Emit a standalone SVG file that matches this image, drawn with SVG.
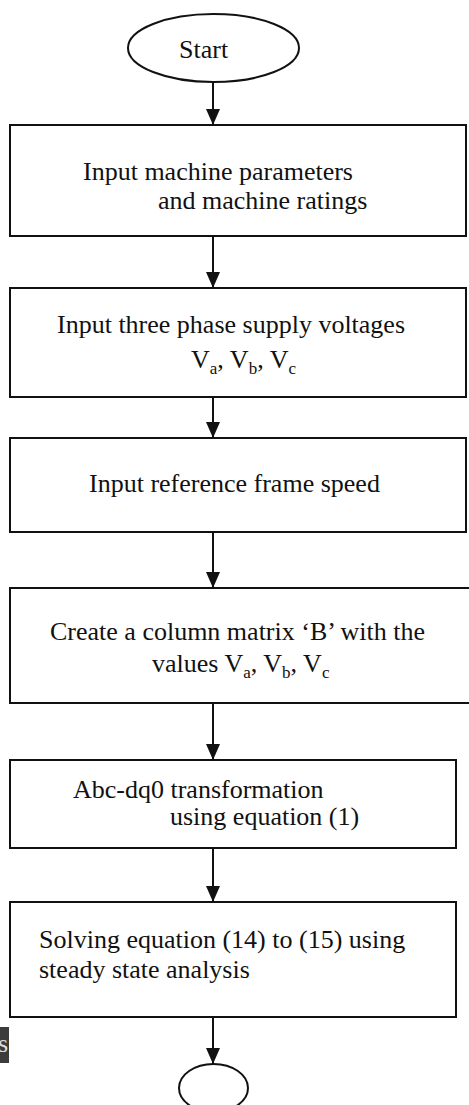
<svg xmlns="http://www.w3.org/2000/svg" width="469" height="1105" viewBox="0 0 469 1105">
<style>
.box{fill:#fff;stroke:#111;stroke-width:2}
.t{font-family:"Liberation Serif","Times New Roman",serif;font-size:26px;fill:#111}
.sub{font-size:17px}
.con{stroke:#111;stroke-width:2;fill:none}
</style>
<defs>
<marker id="ah" markerUnits="userSpaceOnUse" markerWidth="16" markerHeight="14" viewBox="0 0 16 14" refX="16" refY="7" orient="auto">
<path d="M0,0 L16,7 L0,14 z" fill="#111"/>
</marker>
</defs>
<rect width="469" height="1105" fill="#fff"/>
<g id="connectors">
<line class="con" x1="213" y1="82" x2="213" y2="125" marker-end="url(#ah)"/>
<line class="con" x1="213" y1="236" x2="213" y2="288" marker-end="url(#ah)"/>
<line class="con" x1="213" y1="397" x2="213" y2="438" marker-end="url(#ah)"/>
<line class="con" x1="213" y1="532" x2="213" y2="588" marker-end="url(#ah)"/>
<line class="con" x1="213" y1="703" x2="213" y2="760" marker-end="url(#ah)"/>
<line class="con" x1="213" y1="848" x2="213" y2="902" marker-end="url(#ah)"/>
<line class="con" x1="213" y1="1017" x2="213" y2="1064" marker-end="url(#ah)"/>
</g>
<g id="start">
<ellipse class="box" cx="213.5" cy="48" rx="85.5" ry="34"/>
<text class="t" x="179" y="58">Start</text>
</g>
<g id="n1">
<rect class="box" x="10" y="125" width="456" height="111"/>
<text class="t" x="83" y="180">Input machine parameters</text>
<text class="t" x="158" y="209">and machine ratings</text>
</g>
<g id="n2">
<rect class="box" x="10" y="288" width="456" height="109"/>
<text class="t" x="57" y="333">Input three phase supply voltages</text>
<text class="t" x="191" y="368">V<tspan class="sub" dy="6">a</tspan><tspan dy="-6">, V</tspan><tspan class="sub" dy="6">b</tspan><tspan dy="-6">, V</tspan><tspan class="sub" dy="6">c</tspan></text>
</g>
<g id="n3">
<rect class="box" x="10" y="438" width="456" height="94"/>
<text class="t" x="89" y="492">Input reference frame speed</text>
</g>
<g id="n4">
<rect class="box" x="10" y="588" width="470" height="115"/>
<text class="t" x="50" y="640">Create a column matrix ‘B’ with the</text>
<text class="t" x="152" y="672">values V<tspan class="sub" dy="6">a</tspan><tspan dy="-6">, V</tspan><tspan class="sub" dy="6">b</tspan><tspan dy="-6">, V</tspan><tspan class="sub" dy="6">c</tspan></text>
</g>
<g id="n5">
<rect class="box" x="10" y="760" width="446" height="88"/>
<text class="t" x="73" y="798">Abc-dq0 transformation</text>
<text class="t" x="170" y="825">using equation (1)</text>
</g>
<g id="n6">
<rect class="box" x="10" y="902" width="446" height="115"/>
<text class="t" x="39" y="948">Solving equation (14) to (15) using</text>
<text class="t" x="39" y="978">steady state analysis</text>
</g>
<g id="overlay">
<rect x="0" y="1027" width="9" height="36" fill="#3c3c3c"/>
<text class="t" x="-2" y="1052" fill="#ddd" style="fill:#ddd">s</text>
</g>
<g id="end">
<ellipse class="box" cx="213.5" cy="1088" rx="34.5" ry="24"/>
</g>
</svg>
